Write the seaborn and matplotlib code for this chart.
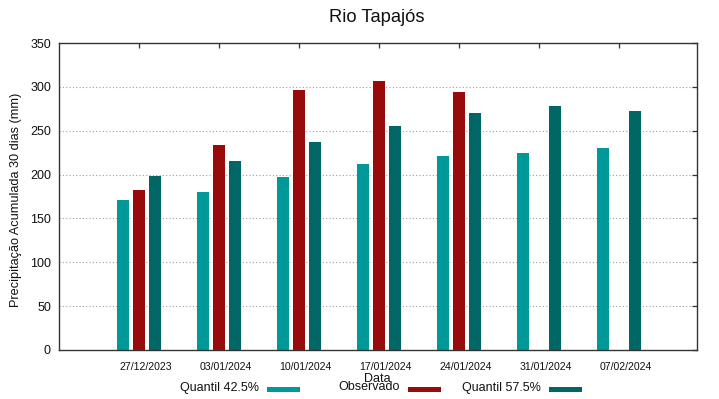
import pandas as pd
import matplotlib.pyplot as plt
import matplotlib.transforms as mtransforms
from matplotlib.patches import Rectangle
import seaborn as sns

# values
dates = ['27/12/2023', '03/01/2024', '10/01/2024', '17/01/2024',
         '24/01/2024', '31/01/2024', '07/02/2024']
q425 = [171, 180, 197, 212, 221, 225, 230]
observado = [182, 234, 296, 307, 294, None, None]
q575 = [198, 215, 237, 255, 270, 278, 272]

series_names = ['Quantil 42.5%', 'Observado', 'Quantil 57.5%']
series_colors = ['#009999', '#990a0a', '#006666']
y_ticks = [0, 50, 100, 150, 200, 250, 300, 350]

# long-form table for seaborn, missing observations dropped
rows = []
for name, vals in zip(series_names, [q425, observado, q575]):
    for d, v in zip(dates, vals):
        if v is not None:
            rows.append({'Data': d, 'serie': name, 'valor': v})
df = pd.DataFrame(rows)

sns.set_style('white')
plt.rcParams['font.family'] = ['Liberation Sans', 'DejaVu Sans']

W, H = 719, 399
fig = plt.figure(figsize=(W / 100, H / 100), dpi=100)
ax = fig.add_axes([59 / W, 1 - 350 / H, (697 - 59) / W, (350 - 43) / H])

sns.barplot(data=df, x='Data', y='valor', hue='serie', order=dates,
            hue_order=series_names, palette=series_colors, width=0.6,
            gap=0.22, saturation=1, errorbar=None, legend=False,
            linewidth=0, edgecolor='none', ax=ax)

ax.set_xlim(-1, 6.975)
ax.set_ylim(0, 350)
ax.set_yticks(y_ticks)
ax.set_xlabel('')
ax.set_ylabel('')

# dotted horizontal grid like gnuplot
for v in y_ticks[1:-1]:
    ax.axhline(v, color='#a0a0a0', lw=0.8, ls=(0, (1, 2)), zorder=0)

for s in ax.spines.values():
    s.set_color('#333333')
    s.set_linewidth(1.0)

ax.tick_params(axis='both', direction='in', length=3.5, width=0.9,
               color='#333333', top=True, right=True)
ax.tick_params(axis='y', labelsize=9, pad=5.8, labelcolor='#111111')
ax.tick_params(axis='x', labelsize=7.6, pad=8.6, labelcolor='#111111')

# shift date labels slightly to the right, as in the reference
offset = mtransforms.ScaledTranslation(6.5 / 100, 0, fig.dpi_scale_trans)
for lbl in ax.get_xticklabels():
    lbl.set_transform(lbl.get_transform() + offset)

fig.text(377 / W, 1 - 22.5 / H, 'Rio Tapajós', ha='center', va='baseline',
         fontsize=13.2, color='#111111')
fig.text(16 / W, 1 - 200 / H, 'Precipitação Acumulada 30 dias (mm)',
         rotation=90, ha='center', va='center', fontsize=9.2, color='#111111')
fig.text(377 / W, 1 - 378.5 / H, 'Data', ha='center', va='center',
         fontsize=9, color='#111111')

# gnuplot-style key: text right-aligned, swatch after it
for i, (name, col) in enumerate(zip(series_names, series_colors)):
    x_right = 259 + 141 * i
    fig.text(x_right / W, 1 - 387.5 / H, name, ha='right', va='center',
             fontsize=9, color='#111111')
    swatch = Rectangle(((x_right + 8) / W, 1 - 391.5 / H), 33 / W, 5 / H,
                       transform=fig.transFigure, facecolor=col,
                       edgecolor='none')
    fig.patches.append(swatch)

fig.savefig('out.png', dpi=100)
